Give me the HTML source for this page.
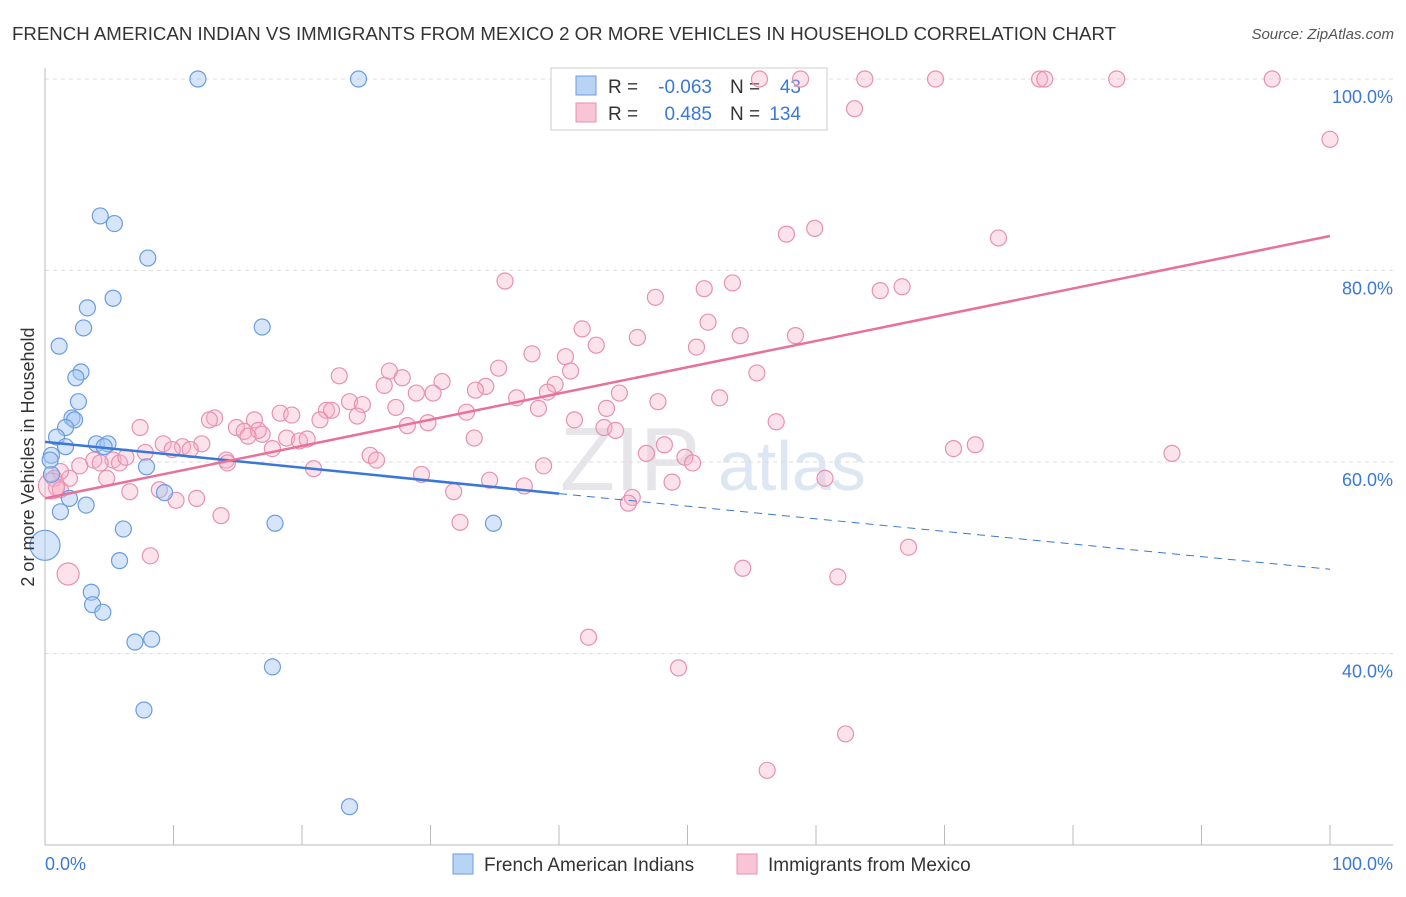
<!DOCTYPE html>
<html><head><meta charset="utf-8"><style>
body{margin:0;background:#fff;font-family:"Liberation Sans",sans-serif}
svg text{font-family:"Liberation Sans",sans-serif}
</style></head><body>
<svg id="c" width="1406" height="892" xmlns="http://www.w3.org/2000/svg">
<text x="12" y="40" font-size="18" fill="#333" textLength="1104" lengthAdjust="spacingAndGlyphs">FRENCH AMERICAN INDIAN VS IMMIGRANTS FROM MEXICO 2 OR MORE VEHICLES IN HOUSEHOLD CORRELATION CHART</text>
<text x="1394" y="39" font-size="15" fill="#555" text-anchor="end" font-style="italic">Source: ZipAtlas.com</text>
<text x="560" y="490" font-size="90" fill="#e6e6ea" font-family="Liberation Serif">ZIP</text>
<text x="718" y="490" font-size="70" fill="#dde6f3">atlas</text>
<g id="grid"></g>
<g>
<rect x="551" y="68" width="276" height="62" fill="#fff" stroke="#ccc"/>
<rect x="576" y="76" width="20" height="19" fill="#b9d3f5" stroke="#6a9de0"/>
<rect x="576" y="103" width="20" height="19" fill="#f9c5d6" stroke="#e890b0"/>
<text x="608" y="93" font-size="19" fill="#333">R =</text>
<text x="712" y="93" font-size="19" fill="#3b78d8" text-anchor="end">-0.063</text>
<text x="730" y="93" font-size="19" fill="#333">N =</text>
<text x="801" y="93" font-size="19" fill="#3b78d8" text-anchor="end">43</text>
<text x="608" y="120" font-size="19" fill="#333">R =</text>
<text x="712" y="120" font-size="19" fill="#3b78d8" text-anchor="end">0.485</text>
<text x="730" y="120" font-size="19" fill="#333">N =</text>
<text x="801" y="120" font-size="19" fill="#3b78d8" text-anchor="end">134</text>
</g>
<g id="pts"></g><g id="lines"></g>
<text transform="translate(34,457) rotate(-90)" font-size="18" fill="#333" text-anchor="middle">2 or more Vehicles in Household</text>
<text x="45" y="870" font-size="18" fill="#3b78d8">0.0%</text>
<text x="1393" y="870" font-size="18" fill="#3b78d8" text-anchor="end">100.0%</text>
<g>
<rect x="453" y="854" width="20" height="20" fill="#b9d3f5" stroke="#6a9de0"/>
<text x="484" y="871" font-size="19" fill="#333">French American Indians</text>
<rect x="737" y="854" width="20" height="20" fill="#f9c5d6" stroke="#e890b0"/>
<text x="768" y="871" font-size="19" fill="#333">Immigrants from Mexico</text>
</g>
</svg>
<script>
const yTicks=[40,60,80,100];
const xTicks=[0,10,20,30,40,50,60,70,80,90,100];
const bluePx=[[198,79],[359,79],[100,216],[115,224],[148,258],[113,298],[87,308],[84,328],[262,327],[59,346],[81,372],[76,378],[78,402],[72,418],[74,420],[66,428],[57,437],[65,447],[96,444],[108,444],[104,447],[52,455],[147,467],[52,474],[70,498],[86,505],[60,512],[123,529],[275,523],[494,523],[120,561],[91,592],[93,605],[103,612],[152,639],[135,642],[272,667],[144,710],[350,807],[165,493],[50,460]];
const pinkPx=[[760,79],[800,79],[865,79],[936,79],[1040,79],[1045,79],[1117,79],[1272,79],[854,109],[1330,139],[815,228],[786,234],[999,238],[505,281],[732,283],[704,289],[655,297],[880,291],[902,287],[708,322],[582,329],[638,338],[740,336],[796,336],[596,345],[697,347],[532,354],[565,357],[498,368],[389,371],[570,371],[339,376],[757,373],[402,378],[384,385],[442,382],[555,384],[486,386],[475,390],[433,393],[416,393],[516,398],[548,392],[620,393],[350,402],[326,410],[332,410],[362,405],[396,407],[538,408],[606,408],[658,402],[719,398],[466,412],[280,413],[292,415],[357,416],[215,418],[209,420],[320,420],[254,420],[575,420],[776,422],[428,423],[408,426],[237,428],[604,428],[615,430],[244,431],[262,434],[140,428],[258,430],[248,436],[287,438],[300,441],[307,439],[474,438],[202,444],[163,444],[183,447],[172,450],[145,452],[190,450],[272,449],[954,449],[975,445],[1172,453],[664,445],[646,453],[685,457],[370,455],[376,460],[226,460],[228,463],[94,460],[113,460],[120,463],[100,463],[126,457],[80,466],[313,469],[422,474],[544,466],[490,480],[107,478],[70,478],[60,472],[54,478],[672,482],[825,478],[524,486],[56,488],[130,492],[159,490],[196,498],[176,500],[453,492],[632,497],[628,503],[221,516],[460,522],[909,547],[151,556],[743,568],[838,577],[589,637],[679,668],[846,734],[767,770],[693,463],[60,490]];
const toX=p=>(p-45)/12.85, toY=p=>100-(p-79)/9.575;
const blueX=bluePx.map(d=>+toX(d[0]).toFixed(1)), blueY=bluePx.map(d=>+toY(d[1]).toFixed(1));
const pinkX=pinkPx.map(d=>+toX(d[0]).toFixed(1)), pinkY=pinkPx.map(d=>+toY(d[1]).toFixed(1));
const blueBig=[[0,51.3,15]], pinkBig=[[1.8,48.3,11],[0.5,57.5,13]];
const blueTrend=[[0,62.1],[40,56.7],[100,48.8]];
const pinkTrend=[[0,56.2],[100,83.6]];
const X=v=>45+v*12.85, Y=v=>79+(100-v)*9.575;
const NS="http://www.w3.org/2000/svg";
function mk(t,a,p){const e=document.createElementNS(NS,t);for(const k in a)e.setAttribute(k,a[k]);p.appendChild(e);return e;}
const g=document.getElementById('grid');
yTicks.forEach(v=>{const l=mk('line',{x1:45,x2:1393,y1:Y(v),y2:Y(v),stroke:'#ddd','stroke-dasharray':'4,4'},g);

const t=mk('text',{x:1393,y:Y(v)+24,'font-size':18,fill:'#3b78d8','text-anchor':'end'},g);t.textContent=v.toFixed(1)+'%';
});
const ax=mk('line',{x1:45,x2:45,y1:68,y2:845,stroke:'#bbb'},g);
const bx=mk('line',{x1:45,x2:1393,y1:845,y2:845,stroke:'#bbb'},g);
xTicks.forEach(v=>{const l=mk('line',{x1:X(v),x2:X(v),y1:825,y2:845,stroke:'#bbb'},g);});
const pg=document.getElementById('pts');
function dot(x,y,r,c){const e=mk('circle',{cx:X(x),cy:Y(y),r:r,fill:c[0],stroke:c[1],'stroke-width':1.2},pg);return e;}
const bc=['rgba(165,198,242,0.45)','#6a9de0'],pc=['rgba(246,175,198,0.35)','#e890b0'];
pinkX.forEach((x,i)=>{const e=dot(x,pinkY[i],8,pc);});
pinkBig.forEach(d=>{const e=dot(d[0],d[1],d[2],pc);});
blueX.forEach((x,i)=>{const e=dot(x,blueY[i],8,bc);});
blueBig.forEach(d=>{const e=dot(d[0],d[1],d[2],bc);});
const lg=document.getElementById('lines');
let l1=mk('line',{x1:X(blueTrend[0][0]),y1:Y(blueTrend[0][1]),x2:X(blueTrend[1][0]),y2:Y(blueTrend[1][1]),stroke:'#3a78d8','stroke-width':2.5},lg);

let l2=mk('line',{x1:X(blueTrend[1][0]),y1:Y(blueTrend[1][1]),x2:X(blueTrend[2][0]),y2:Y(blueTrend[2][1]),stroke:'#3a78d8','stroke-width':1,'stroke-dasharray':'8,6'},lg);

let l3=mk('line',{x1:X(pinkTrend[0][0]),y1:Y(pinkTrend[0][1]),x2:X(pinkTrend[1][0]),y2:Y(pinkTrend[1][1]),stroke:'#e8709a','stroke-width':2.5},lg);

</script>
</body></html>
